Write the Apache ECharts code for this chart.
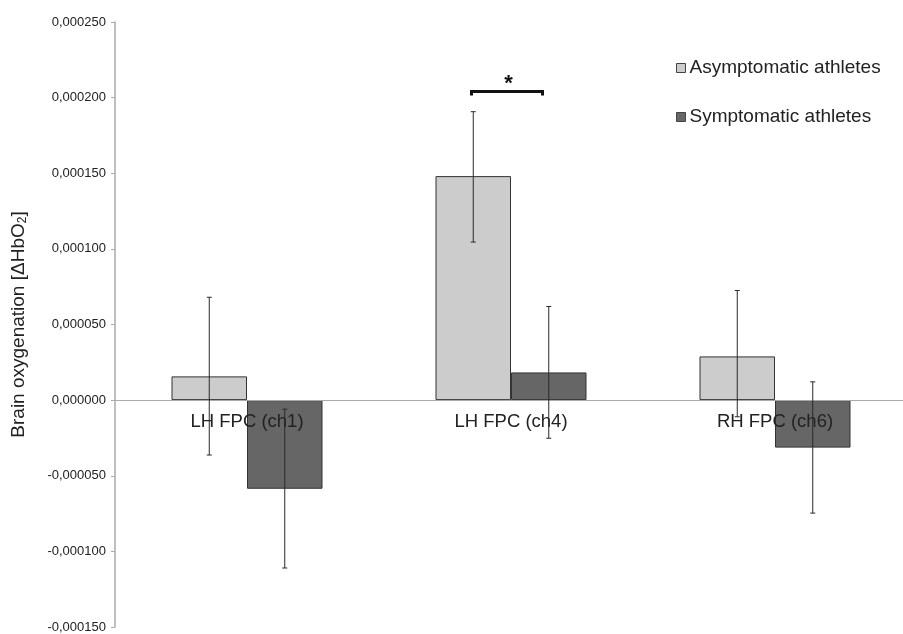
<!DOCTYPE html>
<html>
<head>
<meta charset="utf-8">
<script src="https://cdn.jsdelivr.net/npm/echarts@6/dist/echarts.min.js"></script>
<style>html,body{margin:0;padding:0;background:#fff}#c{width:903px;height:634px}</style>
</head>
<body>
<div id="c"></div>
<script>
const categories = ['LH FPC (ch1)', 'LH FPC (ch4)', 'RH FPC (ch6)'];
const asymptomatic = [0.0000157, 0.0001481, 0.0000289];
const symptomatic = [-0.0000586, 0.0000183, -0.0000314];
const asymErrLow = [-0.0000363, 0.0001045, -0.0000110];
const asymErrHigh = [0.0000680, 0.0001907, 0.0000725];
const symErrLow = [-0.0001110, -0.0000252, -0.0000747];
const symErrHigh = [-0.0000060, 0.0000619, 0.0000121];
const bracketCategory = 1;
const bracketValue = 0.000204;
const yTicks = { min: -0.00015, max: 0.00025, interval: 0.00005 };

const FONT = 'Liberation Sans, Arial, Helvetica, sans-serif';
const BAR_W = 75.5;
const GRID = { left: 115, right: -4, top: 22, bottom: 7 };
const H = 634;
const plotH = H - GRID.top - GRID.bottom;
// x axis sits on the zero line: move it up from the grid bottom
const zeroOffset = -plotH * (0 - yTicks.min) / (yTicks.max - yTicks.min);

function errData(lo, hi, side) {
  return lo.map((v, i) => [i, v, hi[i], side]);
}
function renderErr(params, api) {
  const i = api.value(0);
  const side = api.value(3);
  const p1 = api.coord([i, api.value(1)]);
  const p2 = api.coord([i, api.value(2)]);
  const x = p1[0] + side * BAR_W / 2;
  const cap = 2.5;
  const st = { stroke: '#2a2a2a', lineWidth: 1 };
  return {
    type: 'group',
    children: [
      { type: 'line', shape: { x1: x, y1: p1[1], x2: x, y2: p2[1] }, style: st },
      { type: 'line', shape: { x1: x - cap, y1: p1[1], x2: x + cap, y2: p1[1] }, style: st },
      { type: 'line', shape: { x1: x - cap, y1: p2[1], x2: x + cap, y2: p2[1] }, style: st }
    ]
  };
}

const chart = echarts.init(document.getElementById('c'));
chart.setOption({
  animation: false,
  textStyle: { fontFamily: FONT },
  grid: Object.assign({ outerBoundsMode: 'none', containLabel: false }, GRID),
  legend: {
    orient: 'vertical',
    left: 676,
    top: 58,
    padding: 0,
    icon: 'rect',
    itemWidth: 9,
    itemHeight: 9,
    itemGap: 29,
    data: ['Asymptomatic athletes', 'Symptomatic athletes'],
    textStyle: { fontSize: 19, color: '#222', fontFamily: FONT, lineHeight: 20, padding: [0, 0, 0, -1] },
    itemStyle: { borderColor: '#444', borderWidth: 1 }
  },
  xAxis: {
    type: 'category',
    data: categories,
    z: 10,
    position: 'bottom',
    offset: zeroOffset,
    axisLine: { onZero: false, lineStyle: { color: '#aaa', width: 1 } },
    axisTick: { show: false },
    axisLabel: { fontSize: 18.5, color: '#222', margin: 12, fontFamily: FONT },
    splitLine: { show: false }
  },
  yAxis: {
    type: 'value',
    min: yTicks.min,
    max: yTicks.max,
    interval: yTicks.interval,
    name: '{a|Brain oxygenation [ΔHbO}{s|2}{a|]}',
    nameLocation: 'middle',
    nameRotate: 90,
    nameGap: 86,
    nameTextStyle: {
      rich: {
        a: { fontSize: 19, color: '#222', fontFamily: FONT },
        s: { fontSize: 12, color: '#222', fontFamily: FONT, padding: [9, 0, 0, 0] }
      }
    },
    axisLine: { show: true, lineStyle: { color: '#aaa', width: 1.5 } },
    axisTick: { show: true, length: 4, lineStyle: { color: '#aaa' } },
    splitLine: { show: false },
    axisLabel: {
      fontSize: 13, color: '#222', margin: 9, fontFamily: FONT,
      formatter: v => {
        const r = Math.round(v * 1e6);
        return (r < 0 ? '-' : '') + (Math.abs(r) / 1e6).toFixed(6).replace('.', ',');
      }
    }
  },
  series: [
    {
      name: 'Asymptomatic athletes', type: 'bar', data: asymptomatic,
      barWidth: BAR_W, barGap: '0%',
      itemStyle: { color: '#cccccc', borderColor: '#333', borderWidth: 1 }
    },
    {
      name: 'Symptomatic athletes', type: 'bar', data: symptomatic,
      barWidth: BAR_W, barGap: '0%',
      itemStyle: { color: '#666666', borderColor: '#333', borderWidth: 1 }
    },
    {
      type: 'custom', renderItem: renderErr, data: errData(asymErrLow, asymErrHigh, -1),
      z: 11, silent: true
    },
    {
      type: 'custom', renderItem: renderErr, data: errData(symErrLow, symErrHigh, 1),
      z: 11, silent: true
    },
    {
      type: 'custom', z: 12, silent: true,
      data: [[bracketCategory, bracketValue]],
      renderItem: (params, api) => {
        const p = api.coord([api.value(0), api.value(1)]);
        const xl = p[0] - 39.5, xr = p[0] + 31.5, y = p[1];
        return {
          type: 'group',
          children: [
            { type: 'polyline', shape: { points: [[xl, y + 4], [xl, y], [xr, y], [xr, y + 4]] },
              style: { stroke: '#111', lineWidth: 3, fill: null } },
            { type: 'text', style: { text: '*', x: p[0] - 2.5, y: y + 3, fontSize: 22, fontWeight: 'bold',
              fill: '#111', align: 'center', verticalAlign: 'bottom', fontFamily: FONT } }
          ]
        };
      }
    }
  ]
});
</script>
</body>
</html>
